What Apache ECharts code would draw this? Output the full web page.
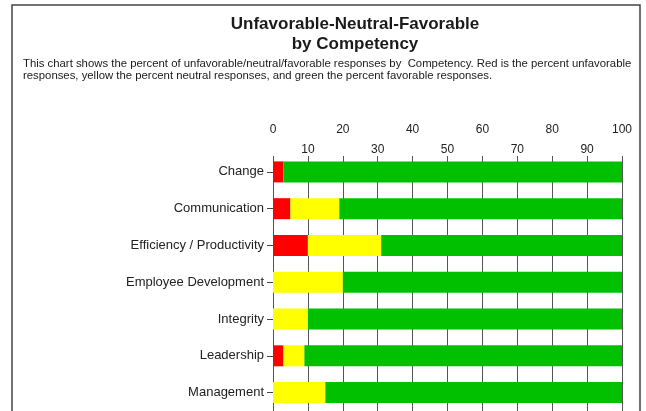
<!DOCTYPE html>
<html>
<head>
<meta charset="utf-8">
<script src="https://cdn.jsdelivr.net/npm/echarts@6/dist/echarts.min.js"></script>
<style>html,body{margin:0;padding:0;background:#fff;}#c{width:646px;height:411px;}</style>
</head>
<body>
<div id="c"></div>
<script>
var categories = ['Change', 'Communication', 'Efficiency / Productivity', 'Employee Development', 'Integrity', 'Leadership', 'Management'];
var unfavorable = [3, 5, 10, 0, 0, 3, 0];
var neutral = [0, 14, 21, 20, 10, 6, 15];
var favorable = [97, 81, 69, 80, 90, 91, 85];
var titleText = 'Unfavorable-Neutral-Favorable\nby Competency';
var descText = 'This chart shows the percent of unfavorable/neutral/favorable responses by  Competency. Red is the percent unfavorable\nresponses, yellow the percent neutral responses, and green the percent favorable responses.';

var FONT = 'Liberation Sans, Arial, sans-serif';
var chart = echarts.init(document.getElementById('c'), null, {renderer: 'canvas'});
var grids = {left: 273, right: 24};
chart.setOption({
  animation: false,
  backgroundColor: '#fff',
  graphic: [{
    type: 'rect', silent: true, z: -10,
    shape: {x: 12, y: 5, width: 628, height: 430},
    style: {fill: '#fff', stroke: '#444', lineWidth: 1.5}
  }],
  title: [{
    text: titleText, left: 350, top: 9, textAlign: 'center', padding: 5,
    textStyle: {fontFamily: FONT, fontSize: 17, fontWeight: 'bold', lineHeight: 20.5, color: '#1a1a1a'}
  }, {
    text: descText, left: 18, top: 52.5, padding: 5,
    textStyle: {fontFamily: FONT, fontSize: 11.35, fontWeight: 'normal', lineHeight: 12.5, color: '#1a1a1a'}
  }],
  grid: [
    {left: grids.left, right: grids.right, top: 156, bottom: 0},
    {left: grids.left, right: grids.right, top: 153.5, height: 259}
  ],
  xAxis: [{
    gridIndex: 0, type: 'value', position: 'top', min: 0, max: 100, interval: 20,
    axisLine: {show: false}, axisTick: {show: false},
    axisLabel: {margin: 20, fontFamily: FONT, fontSize: 12, color: '#222'},
    splitLine: {show: false}
  }, {
    gridIndex: 0, type: 'value', position: 'top', min: 0, max: 100, interval: 10,
    axisLine: {show: false}, axisTick: {show: false},
    axisLabel: {margin: 0, fontFamily: FONT, fontSize: 12, color: '#222',
      formatter: function (v) { return (v % 20 === 0) ? '' : String(v); }},
    splitLine: {show: true, lineStyle: {color: '#555', width: 1}}
  }, {
    gridIndex: 1, type: 'value', min: 0, max: 100, show: false
  }],
  yAxis: [{
    gridIndex: 0, type: 'value', show: false
  }, {
    gridIndex: 1, type: 'category', data: categories, inverse: true,
    axisLine: {show: false},
    axisTick: {show: true, alignWithLabel: true, length: 6, lineStyle: {color: '#444'}},
    axisLabel: {margin: 9, fontFamily: FONT, fontSize: 13, color: '#222'},
    splitLine: {show: false}
  }],
  series: [{
    name: 'Unfavorable', type: 'bar', stack: 'a', xAxisIndex: 2, yAxisIndex: 1,
    data: unfavorable, barWidth: 21, itemStyle: {color: '#ff0000'}
  }, {
    name: 'Neutral', type: 'bar', stack: 'a', xAxisIndex: 2, yAxisIndex: 1,
    data: neutral, barWidth: 21, itemStyle: {color: '#ffff00'}
  }, {
    name: 'Favorable', type: 'bar', stack: 'a', xAxisIndex: 2, yAxisIndex: 1,
    data: favorable, barWidth: 21, itemStyle: {color: '#00c000'}
  }]
});
</script>
</body>
</html>
